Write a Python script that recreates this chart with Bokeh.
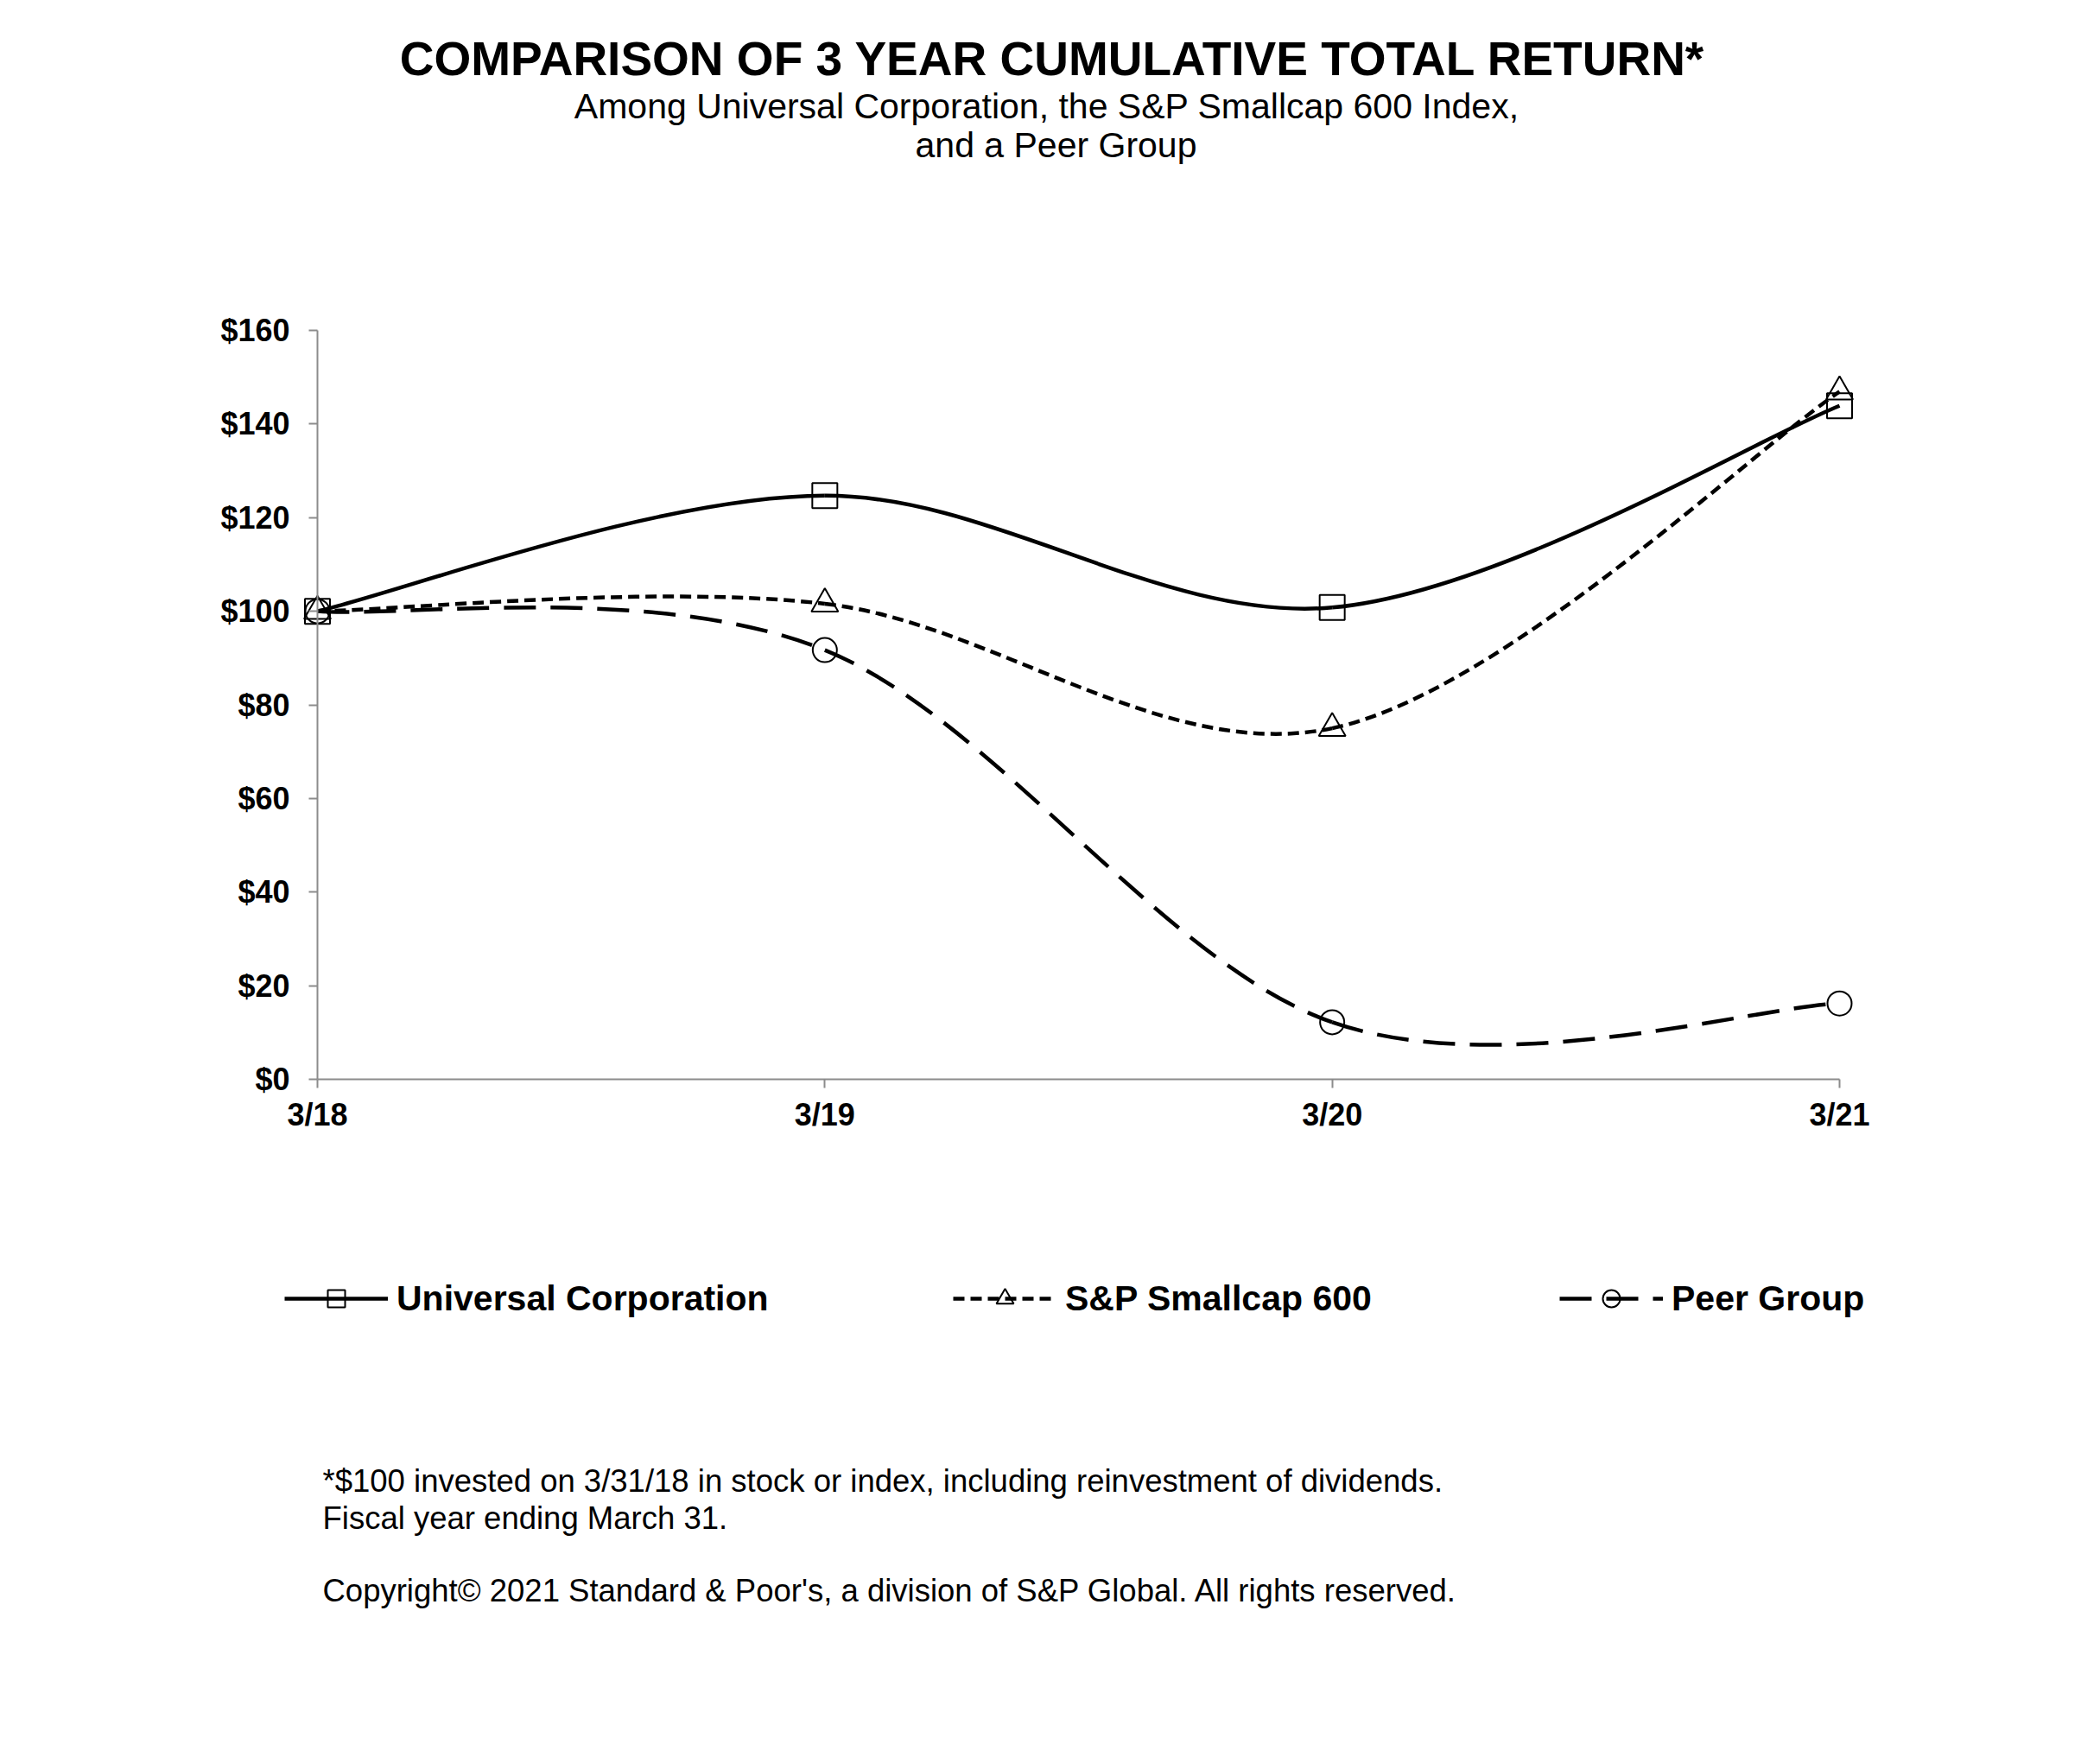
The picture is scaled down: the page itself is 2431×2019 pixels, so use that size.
import numpy as np
from bokeh.plotting import figure
from bokeh.models import (Range1d, FixedTicker, NumeralTickFormatter, Label,
                          Legend, LegendItem, ColumnDataSource, LinearAxis)
from bokeh.embed import file_html
from bokeh.resources import INLINE

# ---- data ----
periods = ["3/18", "3/19", "3/20", "3/21"]
universal = [100, 124.7, 100.8, 143.9]
sp600 = [100, 101.6, 75.0, 146.9]
peer = [100, 91.7, 12.2, 16.2]
series_names = ["Universal Corporation", "S&P Smallcap 600", "Peer Group"]
yticks = [0, 20, 40, 60, 80, 100, 120, 140, 160]

# ---- layout (canvas pixels) ----
FONT = "Liberation Sans"
AXIS_COLOR = "#8c8c8c"
W, H = 2420, 2010
PLOT_L, PLOT_R, PLOT_T, PLOT_B = 367, 2129, 382, 1249
XMIN, XMAX, YMIN, YMAX = 0, 3, 0, 160

xs = list(range(len(periods)))

sx = (PLOT_R - PLOT_L) / (XMAX - XMIN)
sy = (PLOT_B - PLOT_T) / (YMAX - YMIN)
x_range = Range1d(XMIN - PLOT_L / sx, XMAX + (W - PLOT_R) / sx)
y_range = Range1d(YMIN - (H - PLOT_B) / sy, YMAX + PLOT_T / sy)


def smooth_source(xv, yv, k=1.0 / 6.0):
    """Bezier segments (Excel-like smoothed line) derived from the data points."""
    xv = np.asarray(xv, float)
    yv = np.asarray(yv, float)
    px = np.concatenate([[xv[0]], xv, [xv[-1]]])
    py = np.concatenate([[yv[0]], yv, [yv[-1]]])
    seg = dict(x0=[], y0=[], x1=[], y1=[], cx0=[], cy0=[], cx1=[], cy1=[])
    for i in range(len(xv) - 1):
        a, b, c, d = i, i + 1, i + 2, i + 3
        seg["x0"].append(px[b]); seg["y0"].append(py[b])
        seg["x1"].append(px[c]); seg["y1"].append(py[c])
        seg["cx0"].append(px[b] + (px[c] - px[a]) * k)
        seg["cy0"].append(py[b] + (py[c] - py[a]) * k)
        seg["cx1"].append(px[c] - (px[d] - px[b]) * k)
        seg["cy1"].append(py[c] - (py[d] - py[b]) * k)
    return ColumnDataSource(seg)


p = figure(frame_width=W, frame_height=H, min_border=0,
           x_range=x_range, y_range=y_range,
           x_axis_location=None, y_axis_location=None,
           output_backend="svg", toolbar_location=None,
           background_fill_color="white", border_fill_color="white")
p.outline_line_color = None
p.grid.visible = False

xaxis = LinearAxis(fixed_location=YMIN, bounds=(XMIN, XMAX),
                   ticker=FixedTicker(ticks=xs),
                   major_label_overrides={i: lab for i, lab in enumerate(periods)},
                   major_label_standoff=10)
yaxis = LinearAxis(fixed_location=XMIN, bounds=(YMIN, YMAX),
                   ticker=FixedTicker(ticks=yticks),
                   formatter=NumeralTickFormatter(format="$0"),
                   major_label_standoff=22)
for ax in (xaxis, yaxis):
    ax.axis_line_color = AXIS_COLOR
    ax.axis_line_width = 2
    ax.major_tick_line_color = AXIS_COLOR
    ax.major_tick_line_width = 2
    ax.major_tick_in = 0
    ax.major_tick_out = 10
    ax.minor_tick_line_color = None
    ax.major_label_text_font = FONT
    ax.major_label_text_font_size = "36px"
    ax.major_label_text_font_style = "bold"
    ax.major_label_text_color = "black"
p.add_layout(xaxis, "below")
p.add_layout(yaxis, "left")

styles = [
    dict(dash="solid", marker="square", size=29),
    dict(dash="13 7", marker="triangle", size=31),
    dict(dash="37 17", marker="circle", size=28),
]
legend_x = [329, 1103, 1805]   # left edge of each legend sample (canvas px)
legend_bottom = 1528           # bottom of legend row (canvas px)

for name, vals, st, lx in zip(series_names, [universal, sp600, peer], styles, legend_x):
    src = smooth_source(xs, vals)
    ln = p.bezier(x0="x0", y0="y0", x1="x1", y1="y1", cx0="cx0", cy0="cy0",
                  cx1="cx1", cy1="cy1", source=src, line_color="black",
                  line_width=4.5, line_dash=st["dash"])
    mk = p.scatter(xs, vals, marker=st["marker"], size=st["size"],
                   fill_color=None, line_color="black", line_width=2)
    leg = Legend(items=[LegendItem(label=name, renderers=[ln, mk])],
                 location=(lx, H - legend_bottom), orientation="horizontal",
                 glyph_width=120, glyph_height=50, label_standoff=10,
                 padding=0, margin=0, border_line_color=None,
                 background_fill_alpha=0,
                 label_text_font=FONT, label_text_font_size="41px",
                 label_text_font_style="bold", label_text_color="black")
    p.add_layout(leg, "center")

texts = [
    dict(x=1218, y=67, text="COMPARISON OF 3 YEAR CUMULATIVE TOTAL RETURN*",
         size="55px", style="bold", align="center"),
    dict(x=1217, y=122, text="Among Universal  Corporation, the S&P Smallcap 600 Index,",
         size="41px", style="normal", align="center"),
    dict(x=1222, y=167, text="and a Peer Group",
         size="41px", style="normal", align="center"),
    dict(x=373, y=1714, text="*$100 invested  on 3/31/18 in stock or index, including reinvestment of dividends.",
         size="36.5px", style="normal", align="left"),
    dict(x=373, y=1757, text="Fiscal year ending March 31.",
         size="36.5px", style="normal", align="left"),
    dict(x=373, y=1841, text="Copyright\u00a9 2021 Standard & Poor's, a division  of S&P Global. All rights reserved.",
         size="36.5px", style="normal", align="left"),
]
for t in texts:
    p.add_layout(Label(x=t["x"], y=H - t["y"], x_units="screen", y_units="screen",
                       text=t["text"], text_font=FONT, text_font_size=t["size"],
                       text_font_style=t["style"], text_align=t["align"],
                       text_baseline="alphabetic", text_color="black"))

open("out.html", "w").write(file_html(p, INLINE))
